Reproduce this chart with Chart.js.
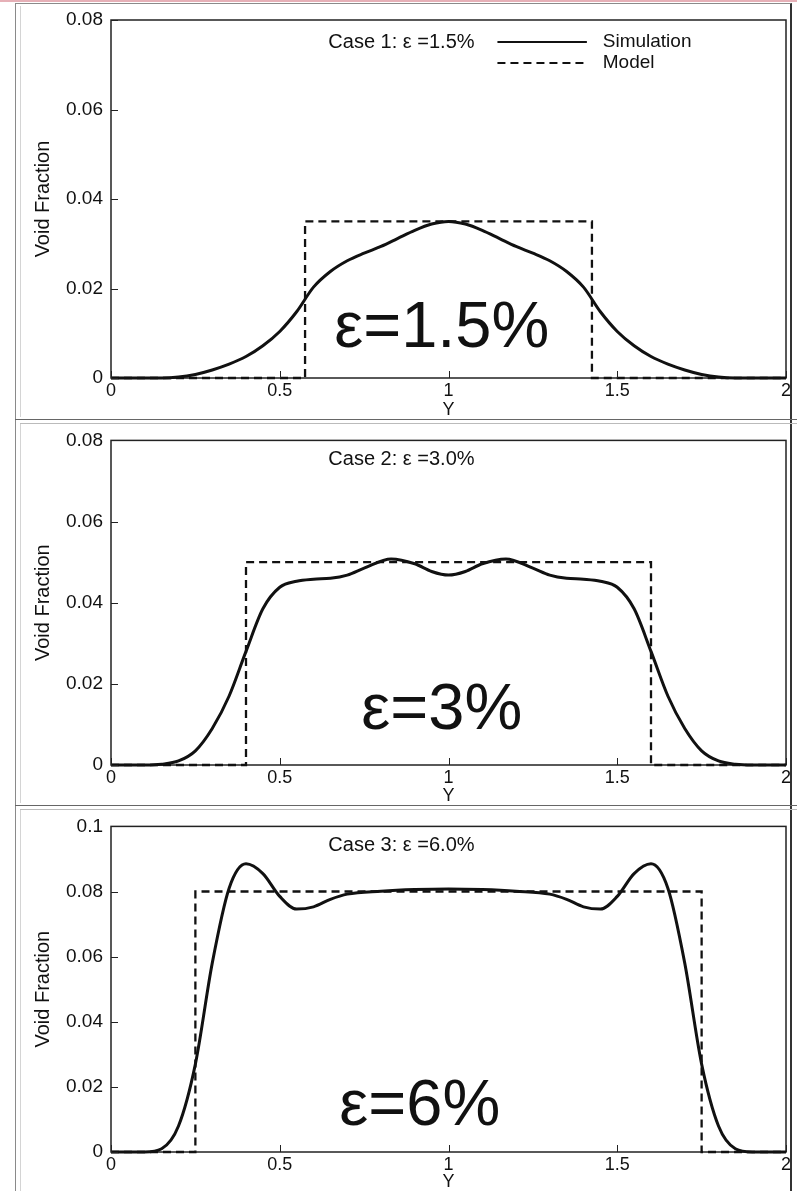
<!DOCTYPE html>
<html>
<head>
<meta charset="utf-8">
<script src="https://cdn.jsdelivr.net/npm/chart.js@4.4.0/dist/chart.umd.min.js"></script>
<style>
  html, body { margin: 0; padding: 0; background: #fff; }
  body { width: 797px; height: 1191px; position: relative; overflow: hidden; font-family: "Liberation Sans", Arial, sans-serif; }
  canvas { position: absolute; left: 0; }
  .topline { position: absolute; left: 0; top: 0; width: 797px; height: 2px; background: #e6b0b7; }
  .frame { position: absolute; left: 15px; top: 3px; width: 774px; height: 1190px; border-left: 1px solid #8a8a8a; border-top: 1px solid #8a8a8a; border-right: 2px solid #333; }
  .inner { position: absolute; left: 20px; width: 768px; border-left: 1px solid #d4d4d4; }
  .sep { position: absolute; left: 15px; width: 782px; height: 0; border-top: 1px solid #666; }
  .sep2 { position: absolute; left: 20px; width: 777px; height: 0; border-top: 1px solid #bbb; }
</style>
</head>
<body>
<div class="topline"></div>
<div class="frame"></div>
<div class="inner" style="top:6px;height:411px"></div>
<div class="inner" style="top:424px;height:379px"></div>
<div class="inner" style="top:810px;height:381px"></div>
<div class="sep" style="top:419px"></div>
<div class="sep2" style="top:423px"></div>
<div class="sep" style="top:805px"></div>
<div class="sep2" style="top:809px"></div>
<canvas id="c1" width="797" height="419" style="top:0px"></canvas>
<canvas id="c2" width="797" height="384" style="top:421px"></canvas>
<canvas id="c3" width="797" height="384" style="top:807px"></canvas>
<script>
// 坐标轴刻度
const xTicks = [0, 0.5, 1, 1.5, 2];
const xTickLabels = ['0', '0.5', '1', '1.5', '2'];
const yTicks1 = [0, 0.02, 0.04, 0.06, 0.08];
const yTickLabels1 = ['0', '0.02', '0.04', '0.06', '0.08'];
const yTicks3 = [0, 0.02, 0.04, 0.06, 0.08, 0.1];
const yTickLabels3 = ['0', '0.02', '0.04', '0.06', '0.08', '0.1'];

const xTitle = 'Y';
const yTitle = 'Void Fraction';
const legendLabels = ['Simulation', 'Model'];
const caseTitles = ['Case 1: ε =1.5%', 'Case 2: ε =3.0%', 'Case 3: ε =6.0%'];
const bigLabels = ['ε=1.5%', 'ε=3%', 'ε=6%'];

// Case 1 数据
const case1X = [0, 0.05, 0.1, 0.15, 0.2, 0.25, 0.3, 0.35, 0.4, 0.45, 0.5, 0.55, 0.6, 0.65, 0.7, 0.75, 0.8, 0.85, 0.9, 0.95,
  1.0, 1.05, 1.1, 1.15, 1.2, 1.25, 1.3, 1.35, 1.4, 1.45, 1.5, 1.55, 1.6, 1.65, 1.7, 1.75, 1.8, 1.85, 1.9, 1.95, 2];
const case1Sim = [0, 0, 0, 0, 0.0002, 0.0008, 0.0018, 0.0031, 0.0048, 0.0072, 0.0104, 0.0148, 0.0203, 0.0238, 0.0262, 0.0279, 0.0294, 0.0312, 0.033, 0.0344,
  0.035, 0.0344, 0.033, 0.0312, 0.0294, 0.0279, 0.0262, 0.0238, 0.0203, 0.0148, 0.0104, 0.0072, 0.0048, 0.0031, 0.0018, 0.0008, 0.0002, 0, 0, 0, 0];
const case1ModelX = [0, 0.575, 0.575, 1.425, 1.425, 2];
const case1Model = [0, 0, 0.035, 0.035, 0, 0];

// Case 2 数据
const case2X = [0, 0.1, 0.15, 0.2, 0.25, 0.3, 0.35, 0.4, 0.45, 0.5, 0.55, 0.6, 0.65, 0.7, 0.75, 0.83, 0.9, 0.95,
  1.0, 1.05, 1.1, 1.17, 1.25, 1.3, 1.35, 1.4, 1.45, 1.5, 1.55, 1.6, 1.65, 1.7, 1.75, 1.8, 1.85, 1.9, 2];
const case2Sim = [0, 0, 0.0002, 0.001, 0.0035, 0.009, 0.017, 0.028, 0.0385, 0.0438, 0.0453, 0.0458, 0.046, 0.0468, 0.0485, 0.0508, 0.0496, 0.0477,
  0.0468, 0.0477, 0.0496, 0.0508, 0.0485, 0.0468, 0.046, 0.0458, 0.0453, 0.0438, 0.0385, 0.028, 0.017, 0.009, 0.0035, 0.001, 0.0002, 0, 0];
const case2ModelX = [0, 0.4, 0.4, 1.6, 1.6, 2];
const case2Model = [0, 0, 0.05, 0.05, 0, 0];

// Case 3 数据
const case3X = [0, 0.1, 0.15, 0.2, 0.25, 0.3, 0.35, 0.4, 0.45, 0.5, 0.55, 0.6, 0.65, 0.7, 0.8, 0.9,
  1.0, 1.1, 1.2, 1.3, 1.35, 1.4, 1.45, 1.5, 1.55, 1.6, 1.65, 1.7, 1.75, 1.8, 1.85, 1.9, 2];
const case3Sim = [0, 0, 0.001, 0.008, 0.027, 0.058, 0.081, 0.0885, 0.0855, 0.0785, 0.0746, 0.0753, 0.0776, 0.0792, 0.0801, 0.0806,
  0.0808, 0.0806, 0.0801, 0.0792, 0.0776, 0.0753, 0.0746, 0.0785, 0.0855, 0.0885, 0.081, 0.058, 0.027, 0.008, 0.001, 0, 0];
const case3ModelX = [0, 0.25, 0.25, 1.75, 1.75, 2];
const case3Model = [0, 0, 0.08, 0.08, 0, 0];

const INK = '#111';
const FONT = '"Liberation Sans", Arial, sans-serif';

function pairs(xs, ys) {
    return xs.map((x, i) => ({ x: x, y: ys[i] }));
}

// 框线、内向刻度、标题、图例与大号标注
const decorPlugin = {
    id: 'decor',
    beforeDatasetsDraw(chart) {
        const { ctx, chartArea: a } = chart;
        ctx.save();
        ctx.strokeStyle = '#222';
        ctx.lineWidth = 1.5;
        ctx.strokeRect(a.left, a.top, a.right - a.left, a.bottom - a.top);
        ctx.restore();
    },
    afterDatasetsDraw(chart, args, opts) {
        const { ctx, chartArea: a, scales } = chart;
        const xs = scales.x, ys = scales.y;
        ctx.save();
        ctx.strokeStyle = '#222';
        ctx.lineWidth = 1;
        ctx.beginPath();
        xs.ticks.forEach(t => {
            const px = Math.round(xs.getPixelForValue(t.value)) + 0.5;
            ctx.moveTo(px, a.bottom);
            ctx.lineTo(px, a.bottom - 7);
        });
        ys.ticks.forEach(t => {
            const py = Math.round(ys.getPixelForValue(t.value)) + 0.5;
            ctx.moveTo(a.left, py);
            ctx.lineTo(a.left + 7, py);
        });
        ctx.stroke();

        ctx.fillStyle = INK;
        ctx.textBaseline = 'middle';
        ctx.textAlign = 'left';
        ctx.font = '20px ' + FONT;
        ctx.fillText(opts.title, xs.getPixelForValue(0.644), a.top + opts.titleDy);

        if (opts.legend) {
            const x1 = xs.getPixelForValue(1.145), x2 = xs.getPixelForValue(1.41), xt = xs.getPixelForValue(1.457);
            const yA = a.top + 22, yB = a.top + 43;
            ctx.strokeStyle = INK;
            ctx.lineWidth = 2;
            ctx.beginPath(); ctx.moveTo(x1, yA); ctx.lineTo(x2, yA); ctx.stroke();
            ctx.setLineDash([8, 5]);
            ctx.beginPath(); ctx.moveTo(x1, yB); ctx.lineTo(x2, yB); ctx.stroke();
            ctx.setLineDash([]);
            ctx.font = '19px ' + FONT;
            ctx.fillText(legendLabels[0], xt, yA);
            ctx.fillText(legendLabels[1], xt, yB);
        }

        ctx.textAlign = 'center';
        ctx.font = '65px ' + FONT;
        ctx.fillText(opts.big, xs.getPixelForValue(opts.bigX), ys.getPixelForValue(opts.bigY));
        ctx.restore();
    }
};

function makeChart(id, simX, sim, modelX, model, yMax, yTicks, yLabels, idx, padTop, xHeight, titleDy, bigX, bigY) {
    return new Chart(document.getElementById(id), {
        type: 'line',
        data: {
            datasets: [
                {
                    label: legendLabels[0],
                    data: pairs(simX, sim),
                    borderColor: INK,
                    borderWidth: 3,
                    pointRadius: 0,
                    cubicInterpolationMode: 'monotone',
                    clip: 4,
                    fill: false
                },
                {
                    label: legendLabels[1],
                    data: pairs(modelX, model),
                    borderColor: INK,
                    borderWidth: 2.3,
                    borderDash: [8, 5],
                    pointRadius: 0,
                    tension: 0,
                    clip: 4,
                    fill: false
                }
            ]
        },
        options: {
            responsive: false,
            animation: false,
            devicePixelRatio: 1,
            layout: { padding: { top: padTop, right: 11, left: 0, bottom: 0 } },
            plugins: {
                legend: { display: false },
                tooltip: { enabled: false },
                decor: {
                    title: caseTitles[idx], titleDy: titleDy, legend: idx === 0,
                    big: bigLabels[idx], bigX: bigX, bigY: bigY
                }
            },
            scales: {
                x: {
                    type: 'linear',
                    min: 0, max: 2,
                    grid: { display: false, drawTicks: false },
                    border: { display: false },
                    afterBuildTicks: s => { s.ticks = xTicks.map(v => ({ value: v })); },
                    afterFit: s => { s.height = xHeight; },
                    ticks: {
                        color: INK,
                        padding: 2,
                        maxRotation: 0,
                        font: { family: FONT, size: 18 },
                        callback: (v, i) => xTickLabels[i]
                    },
                    title: {
                        display: true, text: xTitle, color: INK, padding: 0,
                        font: { family: FONT, size: 18, lineHeight: 1 }
                    }
                },
                y: {
                    type: 'linear',
                    min: 0, max: yMax,
                    grid: { display: false, drawTicks: false },
                    border: { display: false },
                    afterBuildTicks: s => { s.ticks = yTicks.map(v => ({ value: v })); },
                    afterFit: s => { s.width = 111; },
                    ticks: {
                        color: INK,
                        padding: 8,
                        font: { family: FONT, size: 19 },
                        callback: (v, i) => yLabels[i]
                    },
                    title: {
                        display: true, text: yTitle, color: INK, padding: { top: 33, bottom: 0 },
                        font: { family: FONT, size: 20, lineHeight: 1 }
                    }
                }
            }
        },
        plugins: [decorPlugin]
    });
}

makeChart('c1', case1X, case1Sim, case1ModelX, case1Model, 0.08, yTicks1, yTickLabels1, 0, 20, 41, 22, 0.98, 0.011);
makeChart('c2', case2X, case2Sim, case2ModelX, case2Model, 0.08, yTicks1, yTickLabels1, 1, 13, 40, 19, 0.98, 0.0133);
makeChart('c3', case3X, case3Sim, case3ModelX, case3Model, 0.1, yTicks3, yTickLabels3, 2, 14, 39, 19, 0.915, 0.0137);
</script>
</body>
</html>
